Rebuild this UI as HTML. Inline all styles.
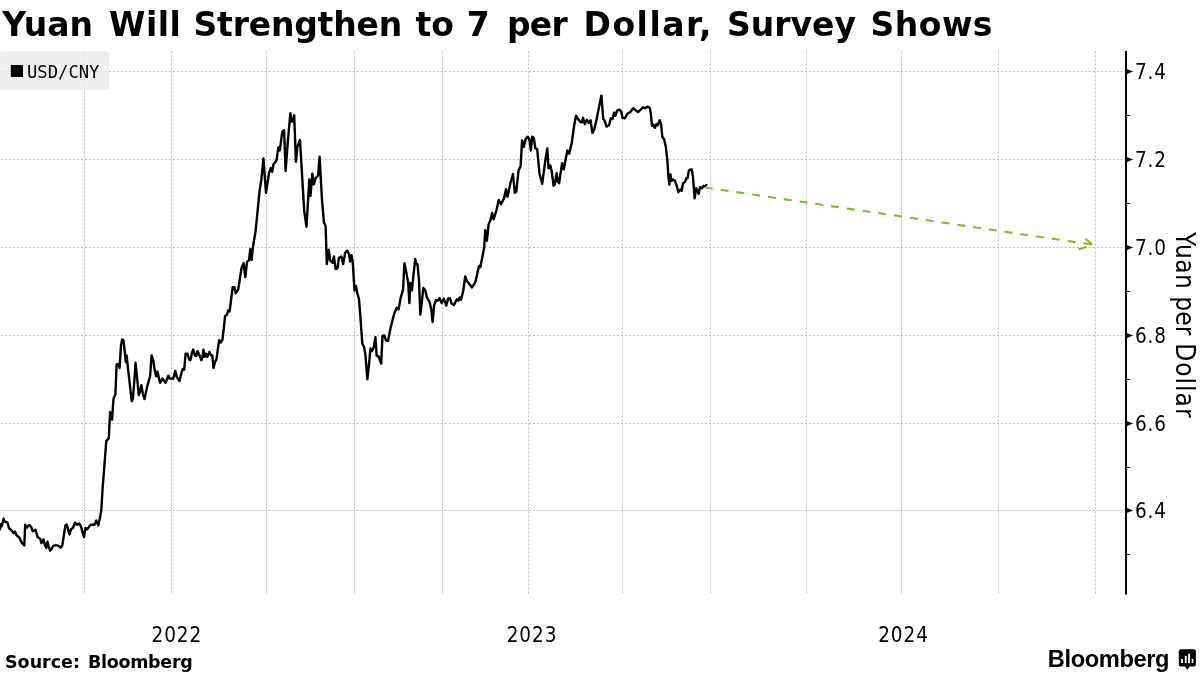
<!DOCTYPE html>
<html lang="en"><head><meta charset="utf-8"><title>Yuan Will Strengthen to 7 per Dollar, Survey Shows</title>
<style>
html,body{margin:0;padding:0;background:#fff;}
body{width:1200px;height:675px;overflow:hidden;}
svg{display:block;will-change:transform;}
text{fill:#000;}
.title{font-family:"DejaVu Sans","Liberation Sans",sans-serif;font-weight:bold;font-size:33px;word-spacing:3px;}
.tick{font-family:"DejaVu Sans Condensed","DejaVu Sans","Liberation Sans",sans-serif;font-size:20.5px;letter-spacing:0.9px;}
.ytitle{font-family:"DejaVu Sans Condensed","DejaVu Sans","Liberation Sans",sans-serif;font-size:26px;}
.leg{font-family:"DejaVu Sans Mono","Liberation Mono",monospace;font-size:17.2px;}
.src{font-family:"DejaVu Sans","Liberation Sans",sans-serif;font-weight:bold;font-size:17.5px;}
.logo{font-family:"Liberation Sans",sans-serif;font-weight:bold;font-size:23.7px;letter-spacing:-0.42px;}
</style></head><body>
<svg width="1200" height="675" viewBox="0 0 1200 675">
<rect width="1200" height="675" fill="#fff"/>
<g stroke="#bababa" stroke-width="1" stroke-dasharray="2 2" fill="none">
<line x1="84.5" y1="51.4" x2="84.5" y2="593.9"/>
<line x1="171.5" y1="51.4" x2="171.5" y2="593.9"/>
<line x1="266.5" y1="51.4" x2="266.5" y2="593.9"/>
<line x1="354.5" y1="51.4" x2="354.5" y2="593.9"/>
<line x1="442.5" y1="51.4" x2="442.5" y2="593.9"/>
<line x1="528.5" y1="51.4" x2="528.5" y2="593.9"/>
<line x1="622.5" y1="51.4" x2="622.5" y2="593.9"/>
<line x1="710.5" y1="51.4" x2="710.5" y2="593.9"/>
<line x1="806.5" y1="51.4" x2="806.5" y2="593.9"/>
<line x1="901.5" y1="51.4" x2="901.5" y2="593.9"/>
<line x1="998.5" y1="51.4" x2="998.5" y2="593.9"/>
<line x1="1095.5" y1="51.4" x2="1095.5" y2="593.9"/>
<line x1="0.75" y1="71.5" x2="1125" y2="71.5"/>
<line x1="0.75" y1="159.5" x2="1125" y2="159.5"/>
<line x1="0.75" y1="247.5" x2="1125" y2="247.5"/>
<line x1="0.75" y1="335.5" x2="1125" y2="335.5"/>
<line x1="0.75" y1="423.5" x2="1125" y2="423.5"/>
<line x1="0.75" y1="510.5" x2="1125" y2="510.5"/>
</g>
<rect x="0" y="51.3" width="109.2" height="38.7" rx="3" fill="#ebebeb" fill-opacity="0.8"/>
<rect x="10.8" y="65" width="12.2" height="12" fill="#000"/>
<text x="27" y="78" class="leg">USD/CNY</text>
<line x1="1126" y1="51" x2="1126" y2="594.5" stroke="#000" stroke-width="2"/>
<path d="M1126.8 68.9 L1133.2 71.5 L1126.8 74.1 Z" fill="#000"/>
<text x="1134.9" y="78.9" class="tick">7.4</text>
<path d="M1126.8 156.9 L1133.2 159.5 L1126.8 162.1 Z" fill="#000"/>
<text x="1134.9" y="166.9" class="tick">7.2</text>
<path d="M1126.8 244.9 L1133.2 247.5 L1126.8 250.1 Z" fill="#000"/>
<text x="1134.9" y="254.9" class="tick">7.0</text>
<path d="M1126.8 332.9 L1133.2 335.5 L1126.8 338.1 Z" fill="#000"/>
<text x="1134.9" y="342.9" class="tick">6.8</text>
<path d="M1126.8 420.9 L1133.2 423.5 L1126.8 426.1 Z" fill="#000"/>
<text x="1134.9" y="430.9" class="tick">6.6</text>
<path d="M1126.8 507.9 L1133.2 510.5 L1126.8 513.1 Z" fill="#000"/>
<text x="1134.9" y="517.9" class="tick">6.4</text>
<line x1="1126" y1="115.5" x2="1130" y2="115.5" stroke="#000" stroke-width="1"/>
<line x1="1126" y1="203.5" x2="1130" y2="203.5" stroke="#000" stroke-width="1"/>
<line x1="1126" y1="291.5" x2="1130" y2="291.5" stroke="#000" stroke-width="1"/>
<line x1="1126" y1="379.5" x2="1130" y2="379.5" stroke="#000" stroke-width="1"/>
<line x1="1126" y1="467.5" x2="1130" y2="467.5" stroke="#000" stroke-width="1"/>
<line x1="1126" y1="554.5" x2="1130" y2="554.5" stroke="#000" stroke-width="1"/>
<text transform="translate(1176.3,0) rotate(90)" class="ytitle"><tspan x="232.10" letter-spacing="0.5">Yuan </tspan><tspan x="296.30" letter-spacing="0.1">per </tspan><tspan x="343.30" letter-spacing="1.0">Dollar</tspan></text>
<text x="176.8" y="641.5" text-anchor="middle" class="tick">2022</text>
<text x="532" y="641.5" text-anchor="middle" class="tick">2023</text>
<text x="903.5" y="641.5" text-anchor="middle" class="tick">2024</text>
<polyline points="0.0,529.3 0.9,524.3 1.8,526.1 2.8,522.0 3.7,518.8 4.4,521.5 7.3,522.5 9.2,528.4 10.5,529.3 13.8,533.2 15.1,531.6 16.5,535.3 19.2,537.4 22.0,543.1 24.3,545.4 25.2,524.8 26.6,527.5 29.3,525.2 31.2,527.0 32.8,531.2 35.3,529.8 36.2,532.1 37.6,537.1 40.3,539.0 41.4,543.1 43.5,539.4 44.9,544.9 46.3,548.1 47.5,541.7 48.6,545.8 50.2,550.6 51.3,549.5 53.2,545.8 55.9,545.1 58.7,545.8 60.5,547.7 62.3,545.4 64.2,533.0 65.5,525.2 66.7,524.6 67.8,528.4 69.5,534.4 71.0,529.3 72.9,528.0 75.2,522.5 77.0,524.8 79.3,523.6 81.1,526.6 82.5,532.1 84.1,537.1 85.4,528.0 87.1,529.3 90.7,524.8 94.4,524.8 96.2,520.6 98.3,525.2 99.9,518.3 101.3,510.1 102.5,490.0 106.3,440.9 108.8,438.4 110.1,412.0 112.1,419.5 112.7,410.0 113.5,398.8 115.4,394.6 116.6,364.4 118.6,363.8 119.6,367.9 121.0,345.4 122.2,339.5 123.4,340.1 125.2,355.5 125.8,362.0 126.6,355.5 128.1,369.1 131.7,401.1 132.9,398.8 134.6,377.4 135.5,362.6 136.4,370.9 138.8,395.0 140.0,391.7 141.4,385.1 142.9,394.0 144.5,399.0 147.1,386.9 150.1,376.2 151.6,355.5 153.4,360.8 154.8,370.9 156.2,376.2 157.4,371.5 159.0,378.6 160.1,382.8 162.5,378.6 165.5,382.8 168.4,375.7 169.6,378.6 173.2,378.6 175.3,370.9 176.7,376.8 179.5,381.0 181.5,372.7 182.7,369.1 184.2,369.7 185.6,353.7 187.4,353.7 189.2,359.6 190.4,360.2 192.2,351.9 193.3,349.6 194.9,355.5 196.3,355.9 197.5,351.1 199.3,354.9 201.3,360.2 202.5,356.7 203.4,349.6 204.6,356.7 205.8,353.7 207.2,357.0 209.4,351.9 211.1,355.5 212.3,355.5 213.5,367.9 215.0,362.0 216.5,359.1 218.2,346.6 219.2,340.1 220.6,342.5 222.4,340.1 223.6,330.0 225.1,316.0 226.9,314.8 228.1,310.5 229.6,311.5 232.7,287.1 234.4,287.1 235.7,293.4 238.2,289.6 241.5,268.2 243.5,263.1 245.3,277.0 247.0,261.9 249.0,260.1 250.3,249.3 251.6,260.1 252.8,248.0 255.6,231.0 259.6,190.7 261.4,179.4 263.4,158.5 266.0,192.8 269.0,173.1 270.7,168.1 272.2,171.8 273.5,164.3 276.5,160.5 278.3,147.4 279.8,150.4 282.3,131.6 284.1,130.3 285.6,171.1 287.9,140.4 290.4,113.2 291.6,121.5 292.9,121.5 294.2,115.2 295.9,161.8 297.4,146.7 300.0,139.9 304.2,210.9 306.5,226.8 309.3,179.4 310.5,195.8 312.3,173.6 313.8,184.5 315.6,178.2 318.1,175.6 319.6,156.8 321.9,198.3 323.9,222.2 325.6,226.0 326.8,264.1 328.8,249.7 330.1,260.3 332.6,262.8 333.9,256.5 335.6,269.1 337.6,267.9 338.9,257.8 341.4,256.5 343.2,264.1 345.2,252.7 347.2,250.7 349.0,254.0 350.2,261.6 351.5,255.3 352.7,261.6 354.5,290.5 356.0,286.0 357.3,293.0 359.0,299.3 360.3,315.7 362.3,343.4 364.1,347.2 365.3,353.5 367.4,379.2 369.1,363.6 370.4,348.5 372.1,351.0 373.7,347.2 375.4,337.1 376.7,356.0 378.4,356.0 381.2,363.6 382.5,335.9 384.2,335.4 386.0,340.4 388.0,340.9 390.5,328.3 394.3,313.2 396.8,307.7 398.6,309.4 400.6,298.1 403.1,289.3 404.4,263.3 406.4,272.9 408.2,283.0 409.4,303.1 410.2,283.0 411.9,290.5 413.7,272.9 415.2,259.0 416.2,264.1 417.5,264.1 419.0,280.5 420.3,314.5 422.0,300.6 423.3,288.0 425.3,290.5 427.1,298.1 429.6,301.9 431.3,309.4 432.6,322.0 434.1,305.6 435.9,300.1 437.9,300.6 439.6,298.1 441.7,303.1 443.8,298.7 446.3,305.7 448.1,298.7 450.1,298.2 451.3,303.2 453.9,305.0 456.9,299.2 458.4,300.7 459.6,297.4 460.9,300.0 463.2,291.1 465.2,276.5 467.0,281.1 469.0,283.6 472.0,287.4 475.3,282.3 479.0,265.9 480.3,267.2 484.1,248.3 485.3,230.2 486.9,240.8 488.6,224.4 490.4,220.1 492.1,213.0 493.7,219.3 496.7,209.3 498.7,200.0 501.0,204.2 504.2,197.9 506.0,189.1 507.5,196.7 510.5,182.8 513.0,174.0 514.8,192.9 516.3,191.6 518.6,170.2 520.6,166.4 522.1,140.5 523.9,146.8 525.6,139.2 527.6,136.7 529.4,139.2 530.9,150.5 532.2,136.7 533.9,137.9 535.2,148.0 537.2,149.3 539.5,173.7 542.2,183.8 545.3,160.6 547.3,148.5 548.5,168.2 550.3,165.6 551.6,170.7 553.6,185.8 554.8,184.5 556.6,173.2 557.9,182.0 559.1,183.3 562.1,163.1 563.7,169.4 565.4,160.6 567.4,150.5 569.2,153.6 571.7,143.0 574.2,125.3 576.0,115.8 578.0,119.0 580.0,121.6 581.8,122.3 583.0,117.8 584.8,124.1 586.8,119.8 588.8,122.8 590.6,120.3 592.4,132.9 594.4,129.1 596.9,117.8 599.4,105.2 601.4,95.6 603.2,119.0 604.5,120.3 606.5,126.6 609.0,125.3 610.8,118.3 612.5,119.0 614.0,112.7 615.3,115.8 617.1,110.7 619.6,109.7 621.3,111.5 622.5,117.8 625.0,118.3 627.6,113.5 630.1,112.2 633.1,108.2 635.6,110.2 638.1,112.0 640.7,109.7 643.2,107.2 645.2,108.2 647.2,106.7 649.7,107.7 650.7,112.7 652.0,125.8 653.5,124.8 654.8,127.9 656.5,124.1 657.8,125.3 659.8,120.3 661.1,124.1 662.3,136.7 664.1,139.2 665.8,146.8 667.4,160.6 668.4,177.0 669.4,184.5 670.4,174.5 671.6,180.8 672.9,179.5 674.9,180.8 676.7,185.8 678.4,192.1 680.5,189.6 681.7,190.8 683.0,183.3 685.0,182.0 686.2,178.2 687.5,178.2 688.8,170.7 690.5,169.4 691.8,169.4 693.0,177.0 694.6,198.4 696.1,188.3 697.6,190.8 698.6,193.9 700.1,187.1 701.9,188.3 703.6,185.8 705.1,186.3 706.4,185.0" fill="none" stroke="#000" stroke-width="2.4" stroke-linejoin="round" stroke-linecap="round"/>
<g stroke="#7fc31c" stroke-width="2.1" fill="none">
<line x1="704.9" y1="187.5" x2="1092.2" y2="244.6" stroke-dasharray="8 7.94"/>
<line x1="1085.4" y1="238.7" x2="1092.3" y2="244.5"/>
<line x1="1086.4" y1="246.8" x2="1078.6" y2="249.4"/>
</g>
<text y="35.7" class="title"><tspan x="2.20" letter-spacing="0">Yuan </tspan><tspan x="109.00" letter-spacing="0.5">Will </tspan><tspan x="193.50" letter-spacing="-0.2">Strengthen </tspan><tspan x="415.50" letter-spacing="0">to </tspan><tspan x="466.75" letter-spacing="0">7 </tspan><tspan x="507.00" letter-spacing="-0.8">per </tspan><tspan x="583.50" letter-spacing="1.5">Dollar, </tspan><tspan x="727.00" letter-spacing="0">Survey </tspan><tspan x="870.60" letter-spacing="0.45">Shows</tspan></text>
<text y="667.7" class="src"><tspan x="5">Source: </tspan><tspan x="88" letter-spacing="-0.3">Bloomberg</tspan></text>
<text x="1047.8" y="667" class="logo">Bloomberg</text>
<g><path d="M1180.8 649.3 H1193.9 Q1195.9 649.3 1195.9 651.3 V664.4 Q1195.9 666.4 1193.9 666.4 H1189.7 L1187.4 669.8 L1185 666.4 H1180.8 Q1178.8 666.4 1178.8 664.4 V651.3 Q1178.8 649.3 1180.8 649.3 Z" fill="#000"/>
<rect x="1181.1" y="658.9" width="1.9" height="4.2" fill="#fff"/><rect x="1184.8" y="655.8" width="1.9" height="7.3" fill="#fff"/><rect x="1188.1" y="653.7" width="1.9" height="9.4" fill="#fff"/><rect x="1191.7" y="658.9" width="1.6" height="4.2" fill="#fff"/></g>
</svg>
</body></html>
